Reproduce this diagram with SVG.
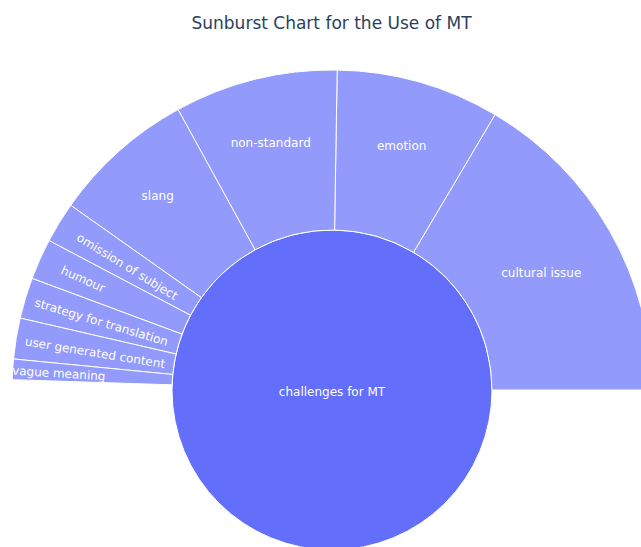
<svg xmlns="http://www.w3.org/2000/svg" width="641" height="547" viewBox="0 0 641 547">
<style>
.leaf{fill:#929afb;stroke:#ffffff;stroke-width:1}
.root{fill:#636efa;stroke:#ffffff;stroke-width:1}
.lbl{font-family:"DejaVu Sans","Verdana",sans-serif;font-size:12px;fill:#ffffff;text-anchor:middle}
.title{font-family:"DejaVu Sans","Verdana",sans-serif;font-size:17px;fill:#2a3f5f;text-anchor:middle}
</style>
<rect width="641" height="547" fill="#ffffff"/>
<text class="title" x="331.5" y="28.5">Sunburst Chart for the Use of MT</text>
<g id="root">
<circle class="root" cx="332" cy="390" r="160"/>
<text class="lbl" x="332" y="395.5">challenges for MT</text>
</g>
<g id="cultural-issue">
<path class="leaf" d="M492,390 L652,390 A320,320 0 0 0 495,114.61 L413.5,252.3 A160,160 0 0 1 492,390 Z"/>
<text class="lbl" x="541.3" y="276.5">cultural issue</text>
</g>
<g id="emotion">
<path class="leaf" d="M413.5,252.3 L495,114.61 A320,320 0 0 0 337.18,70.04 L334.59,230.02 A160,160 0 0 1 413.5,252.3 Z"/>
<text class="lbl" x="401.7" y="150">emotion</text>
</g>
<g id="non-standard">
<path class="leaf" d="M334.59,230.02 L337.18,70.04 A320,320 0 0 0 178.02,109.48 L255.01,249.74 A160,160 0 0 1 334.59,230.02 Z"/>
<text class="lbl" x="270.7" y="147.3">non-standard</text>
</g>
<g id="slang">
<path class="leaf" d="M255.01,249.74 L178.02,109.48 A320,320 0 0 0 70.7,205.27 L201.35,297.64 A160,160 0 0 1 255.01,249.74 Z"/>
<text class="lbl" x="157.7" y="200">slang</text>
</g>
<g id="omission-of-subject">
<path class="leaf" d="M201.35,297.64 L70.7,205.27 A320,320 0 0 0 49.02,240.58 L190.51,315.29 A160,160 0 0 1 201.35,297.64 Z"/>
<text class="lbl" transform="translate(127.2,266.7) rotate(31.55)" x="0" y="4">omission of subject</text>
</g>
<g id="humour">
<path class="leaf" d="M190.51,315.29 L49.02,240.58 A320,320 0 0 0 32.09,278.39 L182.04,334.2 A160,160 0 0 1 190.51,315.29 Z"/>
<text class="lbl" transform="translate(83,279.2) rotate(24.13)" x="0" y="4">humour</text>
</g>
<g id="strategy-for-translation">
<path class="leaf" d="M182.04,334.2 L32.09,278.39 A320,320 0 0 0 20.19,318.07 L176.09,354.04 A160,160 0 0 1 182.04,334.2 Z"/>
<text class="lbl" transform="translate(101.3,322.2) rotate(16.7)" x="0" y="4">strategy for translation</text>
</g>
<g id="user-generated-content">
<path class="leaf" d="M176.09,354.04 L20.19,318.07 A320,320 0 0 0 13.51,358.96 L172.76,374.48 A160,160 0 0 1 176.09,354.04 Z"/>
<text class="lbl" transform="translate(95,352.8) rotate(9.28)" x="0" y="4">user generated content</text>
</g>
<g id="vague-meaning">
<path class="leaf" d="M172.76,374.48 L13.51,358.96 A320,320 0 0 0 12.17,379.63 L172.08,384.82 A160,160 0 0 1 172.76,374.48 Z"/>
<text class="lbl" transform="translate(58.8,373.5) rotate(3.71)" x="0" y="4">vague meaning</text>
</g>
</svg>
